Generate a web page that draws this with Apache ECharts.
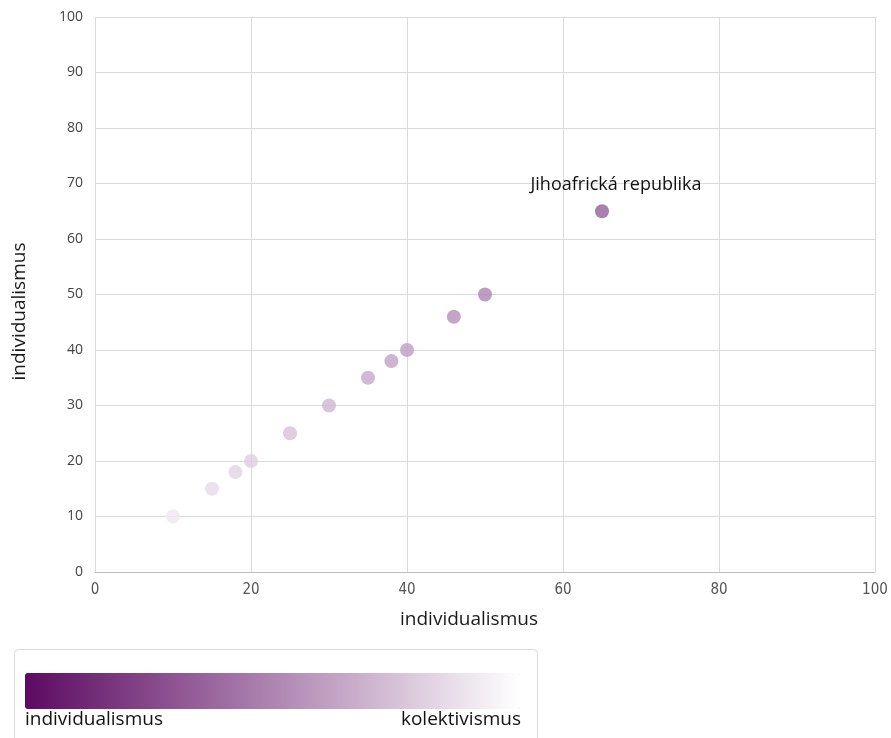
<!DOCTYPE html>
<html>
<head>
<meta charset="utf-8">
<script src="https://cdn.jsdelivr.net/npm/echarts@6/dist/echarts.min.js"></script>
<style>html,body{margin:0;padding:0;background:#fff;}#c{width:891px;height:738px;}</style>
</head>
<body>
<div id="c"></div>
<script>
const xValues = [10, 15, 18, 20, 25, 30, 35, 38, 40, 46, 50, 65];
const yValues = [10, 15, 18, 20, 25, 30, 35, 38, 40, 46, 50, 65];
const pointNames = ['', '', '', '', '', '', '', '', '', '', '', 'Jihoafrická republika'];
const xTicks = [0, 20, 40, 60, 80, 100];
const yTicks = [0, 10, 20, 30, 40, 50, 60, 70, 80, 90, 100];
const axisName = 'individualismus';
const legendLow = 'kolektivismus';
const legendHigh = 'individualismus';

const data = xValues.map((x, i) => ({ value: [x, yValues[i], yValues[i]], name: pointNames[i] }));
const font = 'Open Sans';
const chart = echarts.init(document.getElementById('c'));
chart.setOption({
  animation: false,
  textStyle: { fontFamily: font },
  grid: { left: 95, right: 16, top: 17, bottom: 166 },
  xAxis: {
    type: 'value', min: xTicks[0], max: xTicks[xTicks.length - 1], interval: 20,
    name: axisName, nameLocation: 'middle', nameGap: 38,
    nameTextStyle: { fontSize: 19, color: '#1a1a1a', fontFamily: font, padding: [0, 32, 0, 0] },
    axisLine: { show: true, lineStyle: { color: '#bfbfbf' } },
    axisTick: { show: false },
    axisLabel: { fontSize: 15, color: '#555', margin: 11, fontFamily: 'DejaVu Sans Condensed' },
    splitLine: { show: true, lineStyle: { color: '#dadada' } }
  },
  yAxis: {
    type: 'value', min: yTicks[0], max: yTicks[yTicks.length - 1], interval: 10,
    name: axisName, nameLocation: 'middle', nameGap: 66,
    nameTextStyle: { fontSize: 19, color: '#1a1a1a', fontFamily: font, padding: [0, 34, 0, 0] },
    axisLine: { show: false },
    axisTick: { show: false },
    axisLabel: { fontSize: 14, color: '#444', margin: 12, fontFamily: font },
    splitLine: { show: true, lineStyle: { color: '#dadada' } }
  },
  visualMap: {
    type: 'continuous', dimension: 2, min: 0, max: 100, inverse: true,
    orient: 'horizontal', left: 20, top: 668, itemWidth: 36, itemHeight: 495,
    calculable: false, hoverLink: false, padding: 5,
    inRange: { color: ['#ffffff', '#5c0a62'] },
    text: null, showLabel: false
  },
  graphic: [
    { type: 'rect', left: 12, top: 647, shape: { width: 523, height: 110, r: 4 },
      style: { fill: 'none', stroke: '#dcdcdc', lineWidth: 1 }, silent: true },
    { type: 'text', left: 25, top: 710, style: { text: legendHigh, fontSize: 19, fill: '#111', fontFamily: font } },
    { type: 'text', right: 891 - 521, top: 710, style: { text: legendLow, fontSize: 19, fill: '#111', fontFamily: font } }
  ],
  series: [{
    type: 'scatter', data: data, symbolSize: 14,
    label: {
      show: true, position: 'top', distance: 10, offset: [14, 0],
      formatter: p => p.name, fontSize: 18, color: '#111', opacity: 1,
      textBorderWidth: 0, fontFamily: font
    }
  }]
});
</script>
</body>
</html>
